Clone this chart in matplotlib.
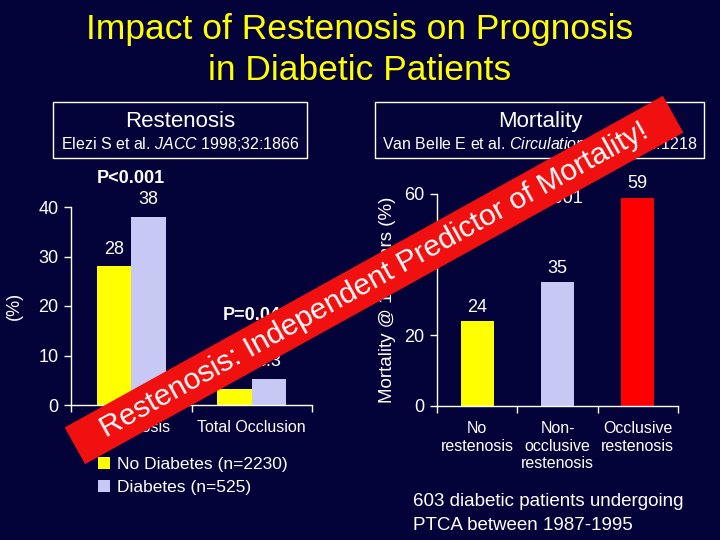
import matplotlib
matplotlib.use("Agg")
import matplotlib.pyplot as plt
from matplotlib.patches import Rectangle
from matplotlib.transforms import Affine2D

plt.rcParams['font.family'] = ['Liberation Sans', 'DejaVu Sans']
plt.rcParams['mathtext.fontset'] = 'custom'
plt.rcParams['mathtext.rm'] = 'Liberation Sans'
plt.rcParams['mathtext.it'] = 'Liberation Sans:italic'

BG = '#03033a'
YELLOW = '#ffff00'
LAVENDER = '#c8c8f5'
RED = '#ff0000'

# left chart: restenosis rates
rest_cats = ['Restenosis', 'Total Occlusion']
no_diab = [28, 3.3]
diab = [38, 5.3]
no_diab_lbl = ['28', '3.3']
diab_lbl = ['38', '5.3']
rest_pvals = ['P<0.001', 'P=0.04']

# right chart: mortality
mort_cats = ['No\nrestenosis', 'Non-\nocclusive\nrestenosis', 'Occlusive\nrestenosis']
mort_vals = [24, 35, 59]
mort_cols = [YELLOW, LAVENDER, RED]

W, H = 720, 540


def fx(px):
    return px / W


def fy(py):
    return 1 - py / H


def style_axes(ax):
    ax.set_facecolor('none')
    for s in ['top', 'right']:
        ax.spines[s].set_visible(False)
    for s in ['left', 'bottom']:
        ax.spines[s].set_color('white')
        ax.spines[s].set_linewidth(1)
    ax.tick_params(axis='y', colors='white', labelsize=13, length=5, width=1, pad=4)
    ax.tick_params(axis='x', which='major', length=0, colors='white', labelsize=11.5, pad=11)
    ax.tick_params(axis='x', which='minor', length=5, width=1, color='white')


fig = plt.figure(figsize=(7.2, 5.4), dpi=100)
fig.patch.set_facecolor(BG)

fig.text(0.5, fy(29), 'Impact of Restenosis on Prognosis', color=YELLOW,
         fontsize=25.5, ha='center', va='center')
fig.text(0.5, fy(71), 'in Diabetic Patients', color=YELLOW,
         fontsize=25.5, ha='center', va='center')

# header boxes
for x0, x1, head, cx in [(53, 307, 'Restenosis', 180), (375, 704, 'Mortality', 540)]:
    fig.add_artist(Rectangle((fx(x0), fy(158)), fx(x1 - x0), (158 - 102) / H,
                             transform=fig.transFigure, fill=False,
                             edgecolor='white', linewidth=1))
    fig.text(fx(cx), fy(122), head, color='white', fontsize=16, ha='center', va='center')

fig.text(fx(180), fy(144), 'Elezi S et al. $\\it{JACC}$ 1998;32:1866', color='white',
         fontsize=11.5, ha='center', va='center')
fig.text(fx(540), fy(144), 'Van Belle E et al. $\\it{Circulation}$ 2001;103:1218',
         color='white', fontsize=11.5, ha='center', va='center')

# ---- left chart ----
ax1 = fig.add_axes([fx(71), fy(405), fx(241), 198 / H])
style_axes(ax1)
x = list(range(len(rest_cats)))
bw = 0.285
ax1.bar([i - bw / 2 for i in x], no_diab, width=bw, color=YELLOW, label='No Diabetes (n=2230)')
ax1.bar([i + bw / 2 for i in x], diab, width=bw, color=LAVENDER, label='Diabetes (n=525)')
p_offsets = [38, 63]
for i in x:
    ax1.annotate(no_diab_lbl[i], (i - bw / 2, no_diab[i]), xytext=(0, 17),
                 textcoords='offset pixels', ha='center', va='center', color='white', fontsize=13)
    ax1.annotate(diab_lbl[i], (i + bw / 2, diab[i]), xytext=(0, 17),
                 textcoords='offset pixels', ha='center', va='center', color='white', fontsize=13)
    top = max(no_diab[i], diab[i])
    ax1.annotate(rest_pvals[i], (i, top), xytext=(0, p_offsets[i]), textcoords='offset pixels',
                 ha='center', va='center', color='white', fontsize=13, fontweight='bold')
ax1.set_xlim(-0.5, 1.5)
ax1.set_ylim(0, 40)
ax1.set_yticks([0, 10, 20, 30, 40])
ax1.set_xticks(x)
ax1.set_xticklabels(rest_cats)
ax1.set_xticks([-0.5, 0.5, 1.5], minor=True)
ax1.set_ylabel('(%)', color='white', fontsize=13, labelpad=11)

leg = ax1.legend(loc='upper left', bbox_to_anchor=(fx(89), fy(448)),
                 bbox_transform=fig.transFigure, frameon=False, fontsize=12.5,
                 labelcolor='white', handlelength=0.7, handleheight=0.7,
                 handletextpad=0.4, labelspacing=0.45, borderpad=0)

# ---- right chart ----
ax2 = fig.add_axes([fx(437), fy(406), fx(241), 212 / H])
style_axes(ax2)
x2 = list(range(len(mort_cats)))
ax2.bar(x2, mort_vals, width=0.41, color=mort_cols)
for i, v in zip(x2, mort_vals):
    ax2.annotate(str(v), (i, v), xytext=(0, 14), textcoords='offset pixels',
                 ha='center', va='center', color='white', fontsize=13)
ax2.text(0.9, 58.6, 'P<0.001', color='white', fontsize=13, ha='center', va='center')
ax2.set_xlim(-0.5, 2.5)
ax2.set_ylim(0, 60)
ax2.set_yticks([0, 20, 40, 60])
ax2.set_xticks(x2)
ax2.set_xticklabels(mort_cats, linespacing=1.2, va='top')
ax2.set_xticks([-0.5, 0.5, 1.5, 2.5], minor=True)
ax2.set_ylabel('Mortality @ 10 years (%)', color='white', fontsize=13.5, labelpad=6)

fig.text(fx(413), fy(502), '603 diabetic patients undergoing', color='white',
         fontsize=13.5, ha='left', va='center')
fig.text(fx(413), fy(525), 'PTCA between 1987-1995', color='white',
         fontsize=13.5, ha='left', va='center')

# diagonal banner over everything
cx, cy = 374, H - 280
ang = 29
banner = Rectangle((cx - 342, cy - 21), 684, 42, facecolor='#f01010', edgecolor='none',
                   transform=Affine2D().rotate_deg_around(cx, cy, ang), zorder=5)
fig.add_artist(banner)
fig.text(fx(cx), cy / H, 'Restenosis: Independent Predictor of Mortality!', color='white',
         fontsize=21.5, rotation=ang, rotation_mode='anchor', ha='center', va='center', zorder=6)

fig.savefig('out.png', dpi=100, facecolor=BG)
